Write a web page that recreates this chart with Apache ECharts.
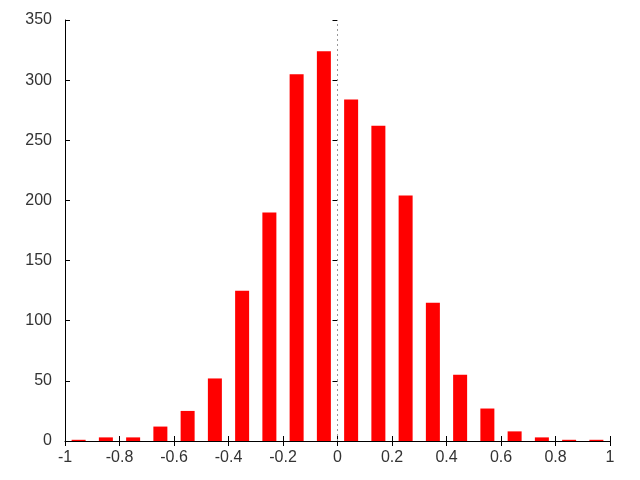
<!DOCTYPE html>
<html>
<head>
<meta charset="utf-8">
<script src="https://cdn.jsdelivr.net/npm/echarts@6/dist/echarts.min.js"></script>
<style>html,body{margin:0;padding:0;background:#fff}#c{width:640px;height:480px}</style>
</head>
<body>
<div id="c"></div>
<script>
var binCenters = [-0.95,-0.85,-0.75,-0.65,-0.55,-0.45,-0.35,-0.25,-0.15,-0.05,0.05,0.15,0.25,0.35,0.45,0.55,0.65,0.75,0.85,0.95];
var counts = [1,3,3,12,25,52,125,190,305,324,284,262,204,115,55,27,8,3,1,1];
var xRange = [-1, 1, 0.2];
var yRange = [0, 350, 50];

var font = {fontFamily: 'Liberation Sans', fontSize: 16, color: '#333'};
var chart = echarts.init(document.getElementById('c'), null, {renderer: 'canvas'});
var data = binCenters.map(function (x, i) { return [x, counts[i]]; });
function fmt(v) { return String(Math.round(v * 10) / 10); }
chart.setOption({
  animation: false,
  grid: {left: 65, right: 30, top: 20, bottom: 39},
  xAxis: [{
    type: 'value', min: xRange[0], max: xRange[1], interval: xRange[2], position: 'bottom',
    axisLine: {show: true, onZero: false, lineStyle: {color: '#000', width: 1}},
    axisTick: {show: true, inside: true, length: 5, lineStyle: {color: '#000'}},
    axisLabel: Object.assign({margin: 9, formatter: fmt}, font),
    splitLine: {show: false}
  }, {
    type: 'value', min: xRange[0], max: xRange[1], interval: xRange[2], position: 'top',
    axisLine: {show: false},
    axisTick: {show: true, inside: true, length: 5, lineStyle: {color: '#000'}},
    axisLabel: {show: false}, splitLine: {show: false}
  }],
  yAxis: [{
    type: 'value', min: yRange[0], max: yRange[1], interval: yRange[2], position: 'left',
    axisLine: {show: true, onZero: false, lineStyle: {color: '#000', width: 1}},
    axisTick: {show: true, inside: true, length: 5, lineStyle: {color: '#000'}},
    axisLabel: Object.assign({margin: 13}, font),
    splitLine: {show: false}
  }, {
    type: 'value', min: yRange[0], max: yRange[1], interval: yRange[2], position: 'right',
    axisLine: {show: false},
    axisTick: {show: true, inside: true, length: 5, lineStyle: {color: '#000'}},
    axisLabel: {show: false}, splitLine: {show: false}
  }],
  series: [{
    type: 'bar', xAxisIndex: 0, yAxisIndex: 0, data: data, barWidth: 14,
    itemStyle: {color: '#ff0000'},
    markLine: {
      silent: true, symbol: 'none', label: {show: false},
      lineStyle: {color: '#999', type: [2, 3], width: 1},
      data: [{xAxis: 0}]
    },
    z: 2
  }]
});
</script>
</body>
</html>
